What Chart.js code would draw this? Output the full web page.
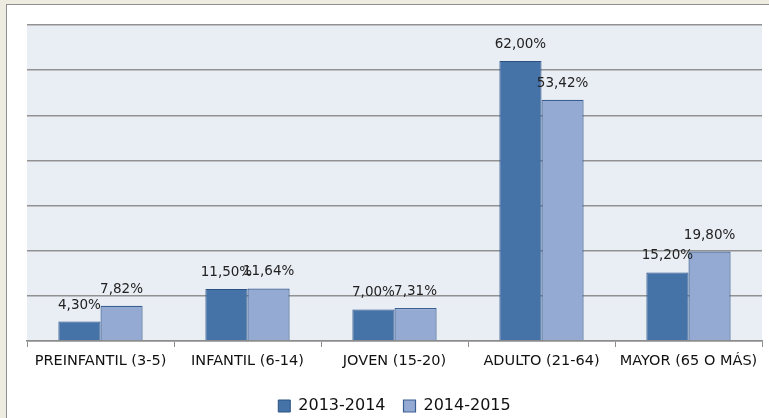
<!DOCTYPE html>
<html>
<head>
<meta charset="utf-8">
<script src="https://cdn.jsdelivr.net/npm/chart.js@4.4.1/dist/chart.umd.min.js"></script>
<style>
	html, body { margin: 0; padding: 0; }
	body { width: 769px; height: 418px; background: #eeece1; position: relative; overflow: hidden; }
	#marco { position: absolute; left: 6px; top: 4px; width: 800px; height: 500px; background: #fff; border: 1px solid #8f8f8f; }
	#grafica { position: absolute; left: 0; top: 0; }
</style>
</head>
<body>
<div id="marco"></div>
<canvas id="grafica" width="769" height="424"></canvas>
<script>
const categorias = ['PREINFANTIL (3-5)', 'INFANTIL (6-14)', 'JOVEN (15-20)', 'ADULTO (21-64)', 'MAYOR (65 O MÁS)'];
const serie2013 = [4.30, 11.50, 7.00, 62.00, 15.20];
const serie2014 = [7.82, 11.64, 7.31, 53.42, 19.80];

const fuente = 'DejaVu Sans';

const fondoArea = {
	id: 'fondoArea',
	beforeDraw(chart) {
		const { ctx, chartArea: a } = chart;
		ctx.save();
		ctx.fillStyle = '#e9edf4';
		ctx.fillRect(a.left, a.top, a.right - a.left, a.bottom - a.top);
		ctx.restore();
	},
};

// etiquetas de valor encima de cada barra
const etiquetas = {
	id: 'etiquetas',
	afterDatasetsDraw(chart) {
		const ctx = chart.ctx;
		ctx.save();
		ctx.font = '13.5px "' + fuente + '"';
		ctx.fillStyle = '#222';
		ctx.textAlign = 'center';
		ctx.textBaseline = 'alphabetic';
		chart.data.datasets.forEach((ds, i) => {
			chart.getDatasetMeta(i).data.forEach((bar, j) => {
				const txt = ds.data[j].toFixed(2).replace('.', ',') + '%';
				ctx.fillText(txt, bar.x, bar.y - 13);
			});
		});
		ctx.restore();
	},
};

new Chart(document.getElementById('grafica'), {
	type: 'bar',
	data: {
		labels: categorias,
		datasets: [
			{
				label: '2013-2014',
				data: serie2013,
				backgroundColor: '#4572a7',
				borderColor: '#2b5283',
				borderWidth: 1,
			},
			{
				label: '2014-2015',
				data: serie2014,
				backgroundColor: '#95aad2',
				borderColor: '#3a5f92',
				borderWidth: 1.2,
			},
		],
	},
	options: {
		responsive: false,
		animation: false,
		layout: { padding: { left: 27, right: 7, top: 25, bottom: 0 } },
		datasets: { bar: { barPercentage: 1, categoryPercentage: 0.573 } },
		scales: {
			x: {
				afterFit(scale) { scale.height = 39; },
				grid: { drawOnChartArea: false, drawTicks: true, tickLength: 6, color: '#8c8c8c' },
				border: { color: '#8c8c8c', width: 1.5 },
				ticks: { color: '#111', font: { family: fuente, size: 14.5 }, padding: 6 },
			},
			y: {
				min: 0,
				max: 70,
				ticks: { display: false, stepSize: 10 },
				grid: { color: '#929292', lineWidth: 1.5, drawTicks: false },
				border: { display: false },
			},
		},
		plugins: {
			legend: {
				position: 'bottom',
				labels: {
					boxWidth: 12,
					boxHeight: 12,
					color: '#111',
					font: { family: fuente, size: 16 },
					padding: 18,
				},
			},
			tooltip: { enabled: false },
		},
	},
	plugins: [fondoArea, etiquetas],
});
</script>
</body>
</html>
